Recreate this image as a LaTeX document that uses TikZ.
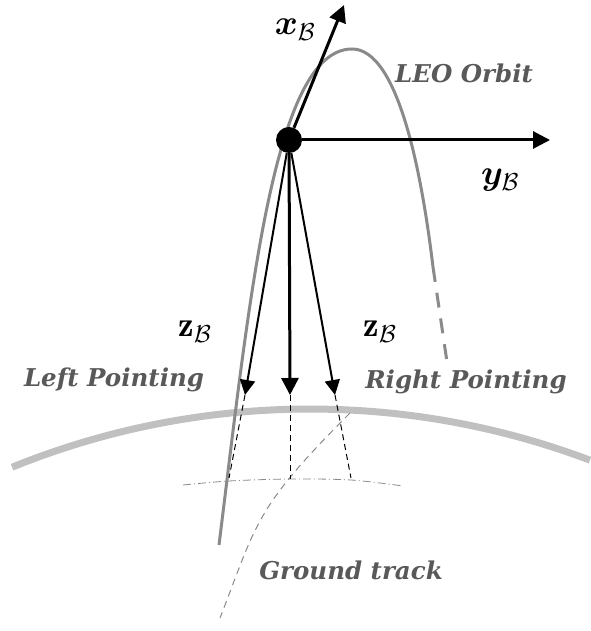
\RequirePackage{fix-cm}
\documentclass[tikz,border=0pt]{standalone}
\usepackage{amsmath}
\usepackage{bm}
\usepackage{fontspec}
\newfontfamily\labelfont{DejaVu Serif}
\usetikzlibrary{arrows.meta}
\definecolor{orbitgray}{HTML}{8A8A8A}
\definecolor{earthgray}{HTML}{C0C0C0}
\definecolor{textgray}{HTML}{595959}
\tikzset{
  bodyaxis/.style={line width=3pt, -{Triangle[length=17pt,width=17pt]}},
  pointaxis/.style={line width=2pt, -{Triangle[length=15pt,width=15pt]}},
  footline/.style={line width=1pt, dash pattern=on 6pt off 4pt},
}
\begin{document}
\begin{tikzpicture}[x=1pt,y=1pt]
\useasboundingbox (0,0) rectangle (590,631);
 \draw[earthgray, line width=7pt] (310,-570) ++(112.1:792) arc[start angle=112.1, end angle=69.3, radius=792];
 \draw[orbitgray, line width=1pt, dash pattern=on 7pt off 5pt] (350,218) .. controls (254,122) and (257,108) .. (220,13);
 \draw[orbitgray, line width=0.8pt, dash pattern=on 8pt off 3pt on 1pt off 3pt] plot[smooth] coordinates {(183,146) (229,150) (290,152) (351,151) (403,145)};
 \draw[orbitgray, line width=3pt] (219,86) .. controls (250,336) and (274,582) .. (352,582) .. controls (397,582) and (421,464) .. (433,364);
 \draw[orbitgray, line width=3pt, dash pattern=on 15pt off 11pt] (433,364) -- (447,269);
 \coordinate (xtip) at (344,626);
 \coordinate (ytip) at (550,491);
 \coordinate (zl) at (245,236);
 \coordinate (zm) at (290,236);
 \coordinate (zr) at (335,236);
 \coordinate (fl) at (229,153);
 \coordinate (fm) at (290,152);
 \coordinate (fr) at (351,153);
 \node[circle, fill, inner sep=0pt, minimum size=26pt] (sat) at (289,491) {};
 \path[bodyaxis] (sat) edge (xtip);
 \path[bodyaxis] (sat) edge (ytip);
 \path[bodyaxis] (sat) edge (zm);
 \path[pointaxis] (sat) edge (zl);
 \path[pointaxis] (sat) edge (zr);
 \path[footline] (zl) edge (fl);
 \path[footline] (zm) edge (fm);
 \path[footline] (zr) edge (fr);
 \begin{scope}[every node/.style={anchor=base, inner sep=0pt, font=\fontsize{35}{42}\selectfont}]
  \node (xlabel) at (295,596) {$\bm{x}_{\mathcal{B}}$};
  \node (ylabel) at (500,446) {$\bm{y}_{\mathcal{B}}$};
  \node (zleft) at (195,294) {$\mathbf{z}_{\mathcal{B}}$};
  \node (zright) at (380,294) {$\mathbf{z}_{\mathcal{B}}$};
 \end{scope}
 \begin{scope}[every node/.style={anchor=base, text=textgray, font=\labelfont\fontsize{24.5}{29}\selectfont\bfseries\itshape}]
  \node (leo) at (464,548) {LEO Orbit};
  \node (left) at (114,244) {Left Pointing};
  \node (right) at (466,242) {Right Pointing};
  \node (ground) at (351,51) {Ground track};
 \end{scope}
\end{tikzpicture}
\end{document}
